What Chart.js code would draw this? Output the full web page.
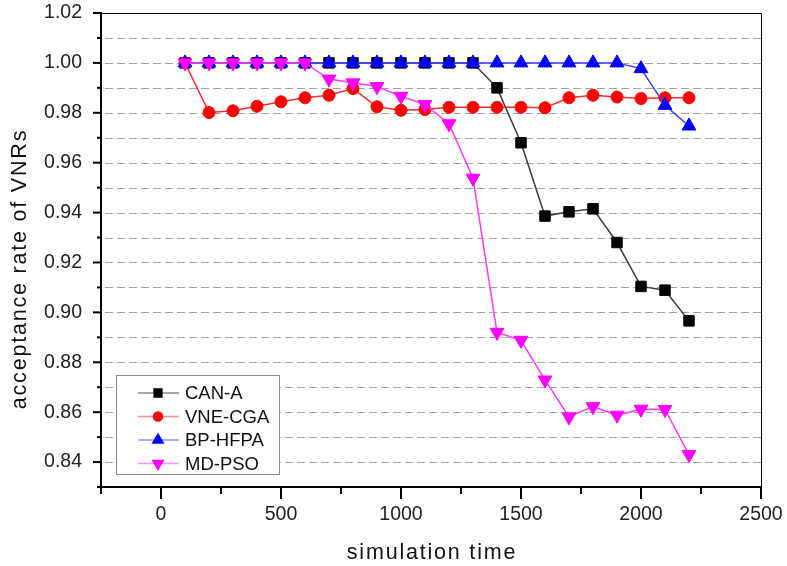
<!DOCTYPE html>
<html>
<head>
<meta charset="utf-8">
<title>acceptance rate of VNRs</title>
<script src="https://cdn.jsdelivr.net/npm/chart.js@4.4.0/dist/chart.umd.min.js"></script>
<style>
  html, body { margin: 0; padding: 0; background: #fff; }
  #wrap { width: 787px; height: 566px; }
</style>
</head>
<body>
<div id="wrap"><canvas id="chart" width="787" height="566"></canvas></div>
<script>
// simulation time (x)
const times = [100, 200, 300, 400, 500, 600, 700, 800, 900, 1000, 1100,
               1200, 1300, 1400, 1500, 1600, 1700, 1800, 1900, 2000, 2100, 2200];

// acceptance rate of VNRs per algorithm
const canA   = [1, 1, 1, 1, 1, 1, 1, 1, 1, 1, 1, 1, 1,
                0.990, 0.968, 0.9386, 0.9403, 0.9415, 0.928, 0.9104, 0.9089, 0.8966];
const vneCga = [1.000, 0.9801, 0.9808, 0.9826, 0.9844, 0.986, 0.987, 0.9897, 0.9824, 0.981, 0.9813,
                0.9822, 0.9822, 0.9822, 0.9822, 0.982, 0.986, 0.987, 0.9863, 0.9857, 0.986, 0.986];
const bpHfpa = [1, 1, 1, 1, 1, 1, 1, 1, 1, 1, 1, 1, 1, 1, 1, 1, 1, 1, 1,
                0.9977, 0.983, 0.9747];
const mdPso  = [1, 1, 1, 1, 1, 1, 0.9935, 0.992, 0.9905, 0.9866, 0.9833,
                0.9756, 0.9538, 0.892, 0.8888, 0.8729, 0.8581, 0.8622, 0.8588, 0.8612, 0.8611, 0.843];

const seriesNames = ['CAN-A', 'VNE-CGA', 'BP-HFPA', 'MD-PSO'];

// axis setup
const xMin = -250, xMax = 2500, xStep = 250, xLabelEvery = 500;
const yMin = 0.83, yMax = 1.02, yStep = 0.01;
const xTitle = 'simulation time';
const yTitle = 'acceptance rate of VNRs';

const FONT = '"Liberation Sans", Arial, sans-serif';

function pts(ys) {
  return times.map((t, i) => ({ x: t, y: ys[i] }));
}

function isMajorY(v) {
  return Math.round(v * 100) % 2 === 0;
}

// dashed grid, frame, outward ticks, legend box and spaced axis titles
const decor = {
  id: 'decor',
  beforeDatasetsDraw(chart) {
    const { ctx, chartArea: a, scales: { y } } = chart;
    ctx.save();
    ctx.strokeStyle = '#a4a4a4';
    ctx.lineWidth = 1;
    ctx.setLineDash([8, 4]);
    y.ticks.forEach(t => {
      if (t.value <= y.min + 1e-9 || t.value >= y.max - 1e-9) return;
      const py = Math.round(y.getPixelForValue(t.value)) + 0.5;
      ctx.beginPath();
      ctx.moveTo(a.left + 4, py);
      ctx.lineTo(a.right, py);
      ctx.stroke();
    });
    ctx.restore();
  },
  afterDatasetsDraw(chart) {
    const { ctx, chartArea: a, scales: { x, y } } = chart;
    ctx.save();
    ctx.strokeStyle = '#000';
    // thin top and right
    ctx.lineWidth = 1;
    ctx.beginPath();
    ctx.moveTo(a.left, a.top + 0.5);
    ctx.lineTo(a.right + 0.5, a.top + 0.5);
    ctx.lineTo(a.right + 0.5, a.bottom);
    ctx.stroke();
    // thick left and bottom
    ctx.lineWidth = 2;
    ctx.beginPath();
    ctx.moveTo(a.left, a.top - 1);
    ctx.lineTo(a.left, a.bottom);
    ctx.lineTo(a.right + 1, a.bottom);
    ctx.stroke();
    // y ticks
    y.ticks.forEach(t => {
      const py = y.getPixelForValue(t.value);
      const len = isMajorY(t.value) ? 8 : 4;
      ctx.beginPath();
      ctx.moveTo(a.left, py);
      ctx.lineTo(a.left - len, py);
      ctx.stroke();
    });
    // x ticks
    x.ticks.forEach(t => {
      const px = x.getPixelForValue(t.value);
      const len = (t.value % xLabelEvery === 0) ? 12 : 7;
      ctx.beginPath();
      ctx.moveTo(px, a.bottom);
      ctx.lineTo(px, a.bottom + len);
      ctx.stroke();
    });
    ctx.restore();
  },
  afterDraw(chart) {
    const { ctx, chartArea: a } = chart;
    ctx.save();

    // legend
    const bx = a.left + 15, by = a.bottom - 112, bw = 163, bh = 99;
    ctx.fillStyle = '#fff';
    ctx.fillRect(bx, by, bw, bh);
    ctx.strokeStyle = '#8c8c8c';
    ctx.lineWidth = 1;
    ctx.strokeRect(bx + 0.5, by + 0.5, bw, bh);
    chart.data.datasets.forEach((ds, i) => {
      const ry = by + 18 + i * 23.5;
      ctx.strokeStyle = ds.legendLine;
      ctx.lineWidth = 1.5;
      ctx.beginPath();
      ctx.moveTo(bx + 22, ry);
      ctx.lineTo(bx + 63, ry);
      ctx.stroke();
      ctx.fillStyle = ds.pointBackgroundColor;
      ctx.strokeStyle = ds.pointBorderColor;
      Chart.helpers.drawPoint(ctx, {
        pointStyle: ds.pointStyle,
        radius: ds.legendRadius,
        rotation: ds.pointRotation || 0,
        borderWidth: 1
      }, bx + 42, ry);
      ctx.fillStyle = '#111';
      ctx.font = '18.5px ' + FONT;
      ctx.textBaseline = 'middle';
      ctx.textAlign = 'left';
      ctx.fillText(ds.label, bx + 69, ry + 1);
    });

    // axis titles
    ctx.fillStyle = '#111';
    ctx.font = '21.5px ' + FONT;
    ctx.letterSpacing = '1.8px';
    ctx.textAlign = 'center';
    ctx.textBaseline = 'alphabetic';
    ctx.fillText(xTitle, (a.left + a.right) / 2 + 1, 559);
    ctx.translate(26, (a.top + a.bottom) / 2 + 19);
    ctx.rotate(-Math.PI / 2);
    ctx.fillText(yTitle, 0, 0);
    ctx.restore();
  }
};

// lower order is drawn last (on top): MD-PSO over BP-HFPA over VNE-CGA over CAN-A
new Chart(document.getElementById('chart'), {
  type: 'line',
  data: {
    datasets: [
      {
        label: seriesNames[0], data: pts(canA), order: 3,
        borderColor: '#3c3c3c', legendLine: '#8a8a8a',
        pointStyle: 'rect', pointRadius: 7.4, legendRadius: 5.5,
        pointBackgroundColor: '#000', pointBorderColor: '#000'
      },
      {
        label: seriesNames[1], data: pts(vneCga), order: 2,
        borderColor: '#ff2a2a', legendLine: '#ff9090',
        pointStyle: 'circle', pointRadius: 6, legendRadius: 4.5,
        pointBackgroundColor: '#ff0000', pointBorderColor: '#ff0000'
      },
      {
        label: seriesNames[2], data: pts(bpHfpa), order: 1,
        borderColor: '#3a3aff', legendLine: '#9090ff',
        pointStyle: 'triangle', pointRadius: 8, legendRadius: 6,
        pointBackgroundColor: '#0000ff', pointBorderColor: '#0000ff'
      },
      {
        label: seriesNames[3], data: pts(mdPso), order: 0,
        borderColor: '#ff3aff', legendLine: '#ff90ff',
        pointStyle: 'triangle', pointRotation: 180, pointRadius: 8, legendRadius: 6,
        pointBackgroundColor: '#ff00ff', pointBorderColor: '#ff00ff'
      }
    ]
  },
  options: {
    responsive: false,
    animation: false,
    devicePixelRatio: 1,
    layout: { padding: { left: 0, top: 13, right: 26, bottom: 0 } },
    elements: {
      line: { borderWidth: 1.5, tension: 0 },
      point: { borderWidth: 1, hoverRadius: 7 }
    },
    plugins: {
      legend: { display: false },
      tooltip: { enabled: false }
    },
    scales: {
      x: {
        type: 'linear', min: xMin, max: xMax,
        grid: { display: false, drawTicks: false },
        border: { display: false },
        ticks: {
          stepSize: xStep, autoSkip: false, maxRotation: 0, padding: 16,
          color: '#222', font: { family: FONT, size: 19.5 },
          callback: v => (v % xLabelEvery === 0 ? String(v) : '')
        },
        afterFit: s => { s.height = 79; s.paddingLeft = 0; s.paddingRight = 0; }
      },
      y: {
        min: yMin, max: yMax,
        grid: { display: false, drawTicks: false },
        border: { display: false },
        ticks: {
          stepSize: yStep, autoSkip: false, padding: 19,
          color: '#222', font: { family: FONT, size: 19.5 },
          callback: v => (isMajorY(v) ? v.toFixed(2) : '')
        },
        afterFit: s => { s.width = 101; s.paddingTop = 0; s.paddingBottom = 0; }
      }
    }
  },
  plugins: [decor]
});
</script>
</body>
</html>
